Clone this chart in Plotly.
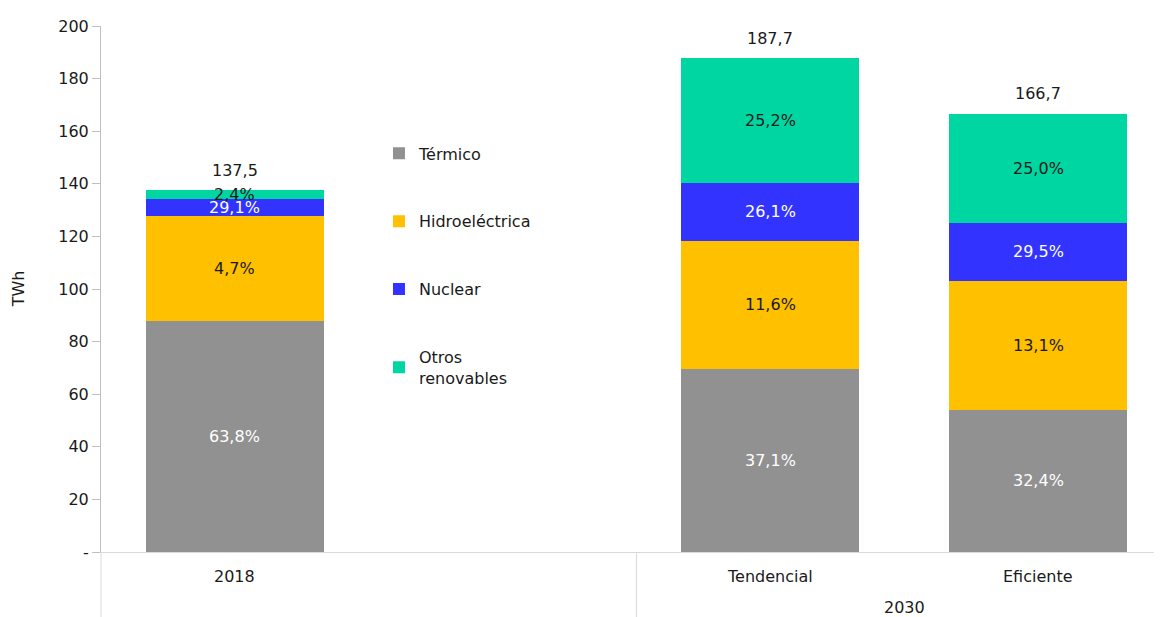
import plotly.graph_objects as go

categories = ["2018", "", "Tendencial", "Eficiente"]
positions = [0, 2, 3]  # slot index of bars (slot 1 empty, holds legend)
bar_labels = ["2018", "Tendencial", "Eficiente"]
group_label = "2030"

series = ["Térmico", "Hidroeléctrica", "Nuclear", "Otros<br>renovables"]
termico = [87.7, 69.6, 54.0]
hidro = [40.0, 48.8, 49.2]
nuclear = [6.5, 21.9, 21.9]
otros = [3.3, 47.4, 41.6]
totals = [137.5, 187.7, 166.7]
total_labels = ["137,5", "187,7", "166,7"]

pct_termico = ["63,8%", "37,1%", "32,4%"]
pct_hidro = ["4,7%", "11,6%", "13,1%"]
pct_nuclear = ["29,1%", "26,1%", "29,5%"]
pct_otros = ["2,4%", "25,2%", "25,0%"]

colors = ["#919191", "#FFC000", "#3333FF", "#00D6A1"]
text_colors = ["white", "#1a1a1a", "white", "#1a1a1a"]

yticks = [0, 20, 40, 60, 80, 100, 120, 140, 160, 180, 200]
ytick_text = ["-", "20", "40", "60", "80", "100", "120", "140", "160", "180", "200"]

FONT = "DejaVu Sans"
FS = 16
values = [termico, hidro, nuclear, otros]
pcts = [pct_termico, pct_hidro, pct_nuclear, pct_otros]

fig = go.Figure()
for i, (name, vals) in enumerate(zip(series, values)):
    fig.add_trace(go.Bar(
        x=positions, y=vals, name=name, width=0.665,
        marker=dict(color=colors[i], line=dict(width=0)),
        legendgroup=str(i), hoverinfo="skip",
    ))

annotations = []
for j, xp in enumerate(positions):
    base = 0
    for i in range(4):
        v = values[i][j]
        annotations.append(dict(
            x=xp, y=base + v / 2, xref="x", yref="y", text=pcts[i][j],
            showarrow=False, xanchor="center", yanchor="middle",
            font=dict(family=FONT, size=FS, color=text_colors[i]),
        ))
        base += v
    annotations.append(dict(
        x=xp, y=totals[j], xref="x", yref="y", text=total_labels[j],
        showarrow=False, yshift=20, xanchor="center", yanchor="middle",
        font=dict(family=FONT, size=FS, color="#1a1a1a"),
    ))
    annotations.append(dict(
        x=xp, y=-0.0475, xref="x", yref="paper", text=bar_labels[j],
        showarrow=False, xanchor="center", yanchor="middle",
        font=dict(family=FONT, size=FS, color="#1a1a1a"),
    ))
annotations.append(dict(
    x=2.5, y=-0.1046, xref="x", yref="paper", text=group_label,
    showarrow=False, xanchor="center", yanchor="middle",
    font=dict(family=FONT, size=FS, color="#1a1a1a"),
))
annotations.append(dict(
    x=-0.078, y=0.5, xref="paper", yref="paper", text="TWh", textangle=-90,
    showarrow=False, xanchor="center", yanchor="middle",
    font=dict(family=FONT, size=FS, color="#1a1a1a"),
))

shapes = [
    dict(type="line", xref="paper", yref="paper", x0=0, x1=0, y0=0, y1=-0.124,
         line=dict(color="#d9d9d9", width=1)),
    dict(type="line", xref="x", yref="paper", x0=1.5, x1=1.5, y0=0, y1=-0.124,
         line=dict(color="#d9d9d9", width=1)),
]

# page body has an 8px default margin: size the figure so it fills the window
fig.update_layout(
    width=1154, height=609,
    margin=dict(l=93, r=0, t=18, b=65, autoexpand=False),
    barmode="stack",
    plot_bgcolor="white", paper_bgcolor="white",
    font=dict(family=FONT, size=FS, color="#1a1a1a"),
    xaxis=dict(range=[-0.5, 3.463], showticklabels=False, ticks="",
               showgrid=False, zeroline=False, showline=True,
               linecolor="#d9d9d9", linewidth=1, fixedrange=True),
    yaxis=dict(range=[0, 200], tickvals=yticks, ticktext=ytick_text,
               ticks="outside", ticklen=8, tickcolor="#bfbfbf",
               showgrid=False, zeroline=False, showline=True,
               linecolor="#bfbfbf", linewidth=1,
               tickfont=dict(family=FONT, size=FS, color="#1a1a1a")),
    legend=dict(x=0.262, y=0.79, xanchor="left", yanchor="top",
                traceorder="grouped", tracegroupgap=44,
                font=dict(family=FONT, size=FS, color="#1a1a1a"),
                bgcolor="rgba(0,0,0,0)"),
    annotations=annotations,
    shapes=shapes,
    showlegend=True,
)

fig.write_html("out.html")
